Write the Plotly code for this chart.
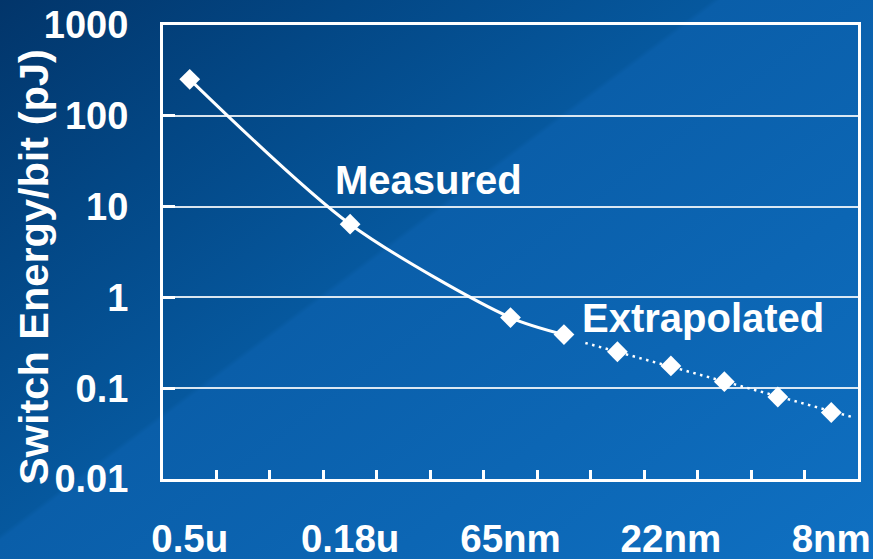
import base64
import plotly.graph_objects as go

# ---------------- data ----------------
nodes = ["0.5u", "0.35u", "0.25u", "0.18u", "0.13u", "90nm", "65nm",
         "45nm", "32nm", "22nm", "16nm", "11nm", "8nm"]
label_nodes = ["0.5u", "0.18u", "65nm", "22nm", "8nm"]

measured_nodes = ["0.5u", "0.18u", "65nm", "45nm"]
measured_pj = [252, 6.4, 0.60, 0.39]

extrap_nodes = ["32nm", "22nm", "16nm", "11nm", "8nm"]
extrap_pj = [0.252, 0.176, 0.118, 0.080, 0.054]

# dotted extrapolation trend (node-index position, pJ)
trend_pos = [7.4, 12.4]
trend_pj = [0.315, 0.048]

y_ticks = [0.01, 0.1, 1, 10, 100, 1000]
y_ticktext = ["0.01", "0.1", "1", "10", "100", "1000"]

# ---------------- layout constants ----------------
W, H = 873, 559
ML, MR, MT, MB = 163, 15, 25, 80
PW, PH = W - ML - MR, H - MT - MB
FONT = "Arial, 'Liberation Sans', sans-serif"

idx = {n: i for i, n in enumerate(nodes)}

svg = (
    f'<svg xmlns="http://www.w3.org/2000/svg" width="{W}" height="{H}" '
    f'viewBox="0 0 {W} {H}" preserveAspectRatio="none">'
    '<defs><linearGradient id="g" gradientUnits="userSpaceOnUse" '
    'x1="0" y1="0" x2="583" y2="777">'
    '<stop offset="0" stop-color="#02356a"/>'
    '<stop offset="0.22" stop-color="#034785"/>'
    '<stop offset="0.44" stop-color="#06589e"/>'
    '<stop offset="0.445" stop-color="#0a5ea9"/>'
    '<stop offset="0.7" stop-color="#0c66b4"/>'
    '<stop offset="1" stop-color="#0f70c2"/>'
    '</linearGradient></defs>'
    f'<rect width="{W}" height="{H}" fill="url(#g)"/></svg>'
)
bg_uri = "data:image/svg+xml;base64," + base64.b64encode(svg.encode()).decode()

fig = go.Figure()

fig.add_trace(go.Scatter(
    x=[idx[n] for n in measured_nodes], y=measured_pj,
    mode="lines+markers",
    line=dict(color="white", width=3, shape="spline", smoothing=0.8),
    marker=dict(symbol="diamond", size=16, color="white"),
    showlegend=False, hoverinfo="skip",
))

fig.add_trace(go.Scatter(
    x=trend_pos, y=trend_pj, mode="lines",
    line=dict(color="white", width=2.5, dash="2.5px,4.5px"),
    showlegend=False, hoverinfo="skip",
))

fig.add_trace(go.Scatter(
    x=[idx[n] for n in extrap_nodes], y=extrap_pj, mode="markers",
    marker=dict(symbol="diamond", size=16, color="white"),
    showlegend=False, hoverinfo="skip",
))

fig.add_annotation(text="<b>Measured</b>", xref="paper", yref="paper",
                   x=(428 - ML) / PW, y=1 - (180 - MT) / PH,
                   xanchor="center", yanchor="middle", showarrow=False,
                   font=dict(family=FONT, size=40, color="white"))
fig.add_annotation(text="<b>Extrapolated</b>", xref="paper", yref="paper",
                   x=(703 - ML) / PW, y=1 - (318 - MT) / PH,
                   xanchor="center", yanchor="middle", showarrow=False,
                   font=dict(family=FONT, size=40, color="white"))
fig.add_annotation(text="<b>Switch Energy/bit (pJ)</b>", xref="paper", yref="paper",
                   x=(33 - ML) / PW, y=1 - (267 - MT) / PH, textangle=-90,
                   xanchor="center", yanchor="middle", showarrow=False,
                   font=dict(family=FONT, size=41.5, color="white"))

fig.update_layout(
    width=W, height=H,
    margin=dict(l=ML, r=MR, t=MT, b=MB, pad=0, autoexpand=False),
    paper_bgcolor="#0a5aa3",
    plot_bgcolor="rgba(0,0,0,0)",
    images=[dict(source=bg_uri, xref="paper", yref="paper",
                 x=-ML / PW, y=1 + MT / PH, sizex=W / PW, sizey=H / PH,
                 xanchor="left", yanchor="top", sizing="stretch",
                 layer="below")],
    xaxis=dict(
        automargin=False,
        range=[-0.5, len(nodes) - 0.5],
        tickmode="array",
        tickvals=[idx[n] for n in label_nodes], ticktext=label_nodes,
        ticks="", showgrid=False, zeroline=False,
        showline=True, linecolor="white", linewidth=3, mirror=True,
        tickfont=dict(family=FONT, size=38.5, color="white", weight="bold"),
        ticklabelstandoff=24,
        minor=dict(tickmode="array",
                   tickvals=[i + 0.5 for i in range(len(nodes) - 1)],
                   ticks="inside", ticklen=9, tickwidth=2.5,
                   tickcolor="white", showgrid=False),
    ),
    yaxis=dict(
        automargin=False,
        type="log", range=[-2, 3],
        tickmode="array", tickvals=y_ticks, ticktext=y_ticktext,
        ticks="inside", ticklen=12, tickwidth=2.5, tickcolor="white",
        showgrid=True, gridcolor="rgba(255,255,255,0.85)", gridwidth=1.5,
        zeroline=False,
        showline=True, linecolor="white", linewidth=3, mirror=True,
        tickfont=dict(family=FONT, size=38, color="white", weight="bold"),
        ticklabelstandoff=24,
    ),
)

fig.write_html(
    "out.html",
    config={"displayModeBar": False},
    post_script="document.body.style.margin='0';"
                "document.body.style.background='#0a5aa3';",
)
